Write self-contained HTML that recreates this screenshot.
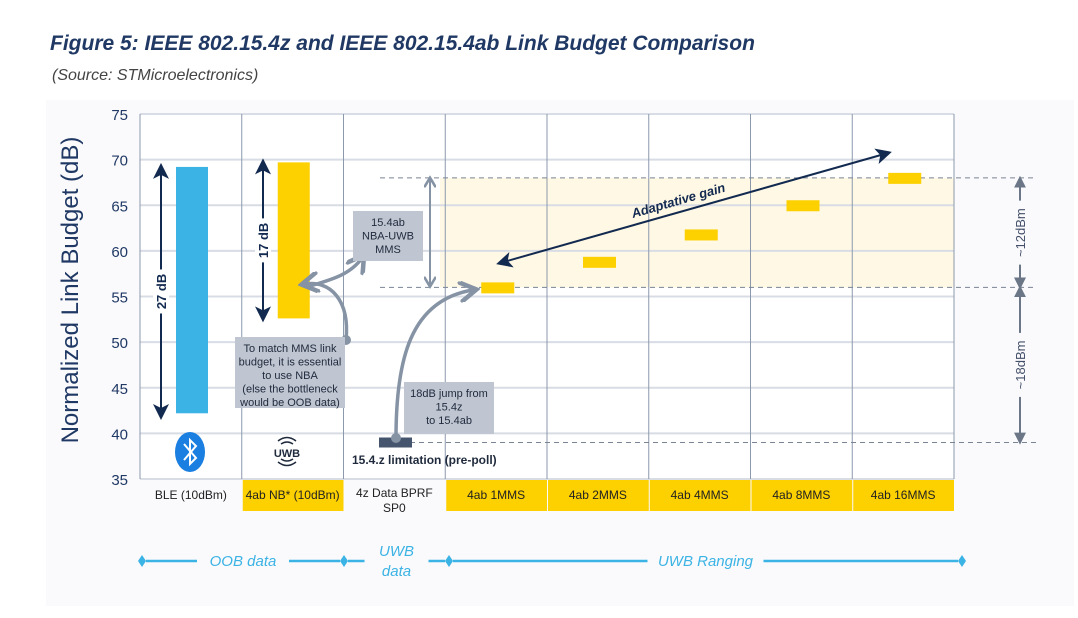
<!DOCTYPE html>
<html><head><meta charset="utf-8"><style>
body{margin:0;width:1078px;height:613px;background:#fff;font-family:"Liberation Sans",sans-serif;overflow:hidden}
svg text{font-family:"Liberation Sans",sans-serif}
</style></head><body>
<svg width="1078" height="613">
<defs>
<marker id="ah" markerWidth="8" markerHeight="8" refX="6" refY="4" orient="auto-start-reverse"><path d="M0,0L8,4L0,8L2,4z" fill="#132a50"/></marker>
<marker id="ag" markerWidth="6" markerHeight="6" refX="4" refY="3" orient="auto-start-reverse"><path d="M0,0L5,3L0,6" fill="none" stroke="#8593a5" stroke-width="1.3"/></marker>
<marker id="ad" markerWidth="6" markerHeight="6" refX="4" refY="3" orient="auto-start-reverse"><path d="M0,0L6,3L0,6z" fill="#6b7686"/></marker>
</defs>
<text x="50" y="50" font-size="21" font-weight="bold" font-style="italic" fill="#1f3864">Figure 5: IEEE 802.15.4z and IEEE 802.15.4ab Link Budget Comparison</text>
<text x="52" y="80" font-size="16" font-style="italic" fill="#444">(Source: STMicroelectronics)</text>
<rect x="46" y="100" width="1028" height="506" fill="#fafafc"/>
<rect x="140" y="114" width="814" height="365" fill="#fff"/>
<g id="grid"></g>
<g id="marks"></g>
<text transform="translate(78,290) rotate(-90)" text-anchor="middle" font-size="24" fill="#1f3864">Normalized Link Budget (dB)</text>
<g id="labels"></g>
<g id="annot"></g>
</svg>
<script>
const yTicks=[35,40,45,50,55,60,65,70,75];
const categories=["BLE (10dBm)","4ab NB* (10dBm)","4z Data BPRF|SP0","4ab 1MMS","4ab 2MMS","4ab 4MMS","4ab 8MMS","4ab 16MMS"];
const catHighlight=[0,1,0,1,1,1,1,1];
const rangeLow=[42.2,52.6];
const rangeHigh=[69.2,69.7];
const mmsValues=[56,58.8,61.8,65,68];
const limitValue=39;
const NS="http://www.w3.org/2000/svg";
const X0=140,CW=101.75,Y0=479,PX=365/40;
const y=v=>Y0-(v-35)*PX;
const x=i=>X0+i*CW;
function mk(t,a,p){const e=document.createElementNS(NS,t);for(const k in a)e.setAttribute(k,a[k]);(p||document.querySelector('svg')).appendChild(e);return e;}
const grid=document.getElementById('grid'),marks=document.getElementById('marks'),labels=document.getElementById('labels'),an=document.getElementById('annot');
let band=mk('rect',{x:440,y:y(68),width:954-440,height:y(56)-y(68),fill:'#fff8e4'},grid);


yTicks.forEach(t=>{
 let l=mk('line',{x1:X0,x2:954,y1:y(t),y2:y(t),stroke:'#d8dce4','stroke-width':2},grid);
 
 
 let tx=mk('text',{x:128,y:y(t)+6,'text-anchor':'end','font-size':15,fill:'#1f3864'},labels);
 tx.textContent=t;
 
 
});
for(let i=0;i<=categories.length;i++){
 let l=mk('line',{x1:x(i),x2:x(i),y1:114,y2:479,stroke:'#8c99ad','stroke-width':1},grid);
 
 
}
categories.forEach((c,i)=>{
 if(catHighlight[i]){let r=mk('rect',{x:x(i)+1,y:480,width:CW-1,height:31,fill:'#fdd000'},labels);
 
 }
 const parts=c.split('|');
 parts.forEach((p,k)=>{let t=mk('text',{x:x(i)+CW/2,y:parts.length>1?497+k*15:499,'text-anchor':'middle','font-size':12,fill:'#222'},labels);
 t.textContent=p;
 
 });
});
[68,56,limitValue].forEach(v=>{let l=mk('line',{x1:v==limitValue?410:380,x2:1036,y1:y(v),y2:y(v),stroke:'#7a8494','stroke-width':1,'stroke-dasharray':'5,4'},grid);

});
const colors=['#3bb3e4','#fdd000'];
rangeLow.forEach((lo,i)=>{let r=mk('rect',{x:x(i)+36,y:y(rangeHigh[i]),width:32,height:y(lo)-y(rangeHigh[i]),fill:colors[i]},marks);

});
mmsValues.forEach((v,i)=>{let r=mk('rect',{x:x(i+3)+36,y:y(v)-5,width:33,height:11,fill:'#fdd000'},marks);

});
let lim=mk('rect',{x:379,y:y(limitValue)-5,width:33,height:10,fill:'#46556e'},marks);


function varrow(xx,a,b,label,name,col,mkr){
 let l=mk('line',{x1:xx,x2:xx,y1:y(a),y2:y(b),stroke:col,'stroke-width':2,'marker-start':'url(#'+mkr+')','marker-end':'url(#'+mkr+')'},an);
 
 
 if(label){let cy=(y(a)+y(b))/2;mk('rect',{x:xx-8,y:cy-22,width:16,height:44,fill:'#fff'},an);
 let t=mk('text',{transform:`translate(${xx+5},${cy}) rotate(-90)`,'text-anchor':'middle','font-size':13,'font-weight':'bold',fill:'#132a50'},an);t.textContent=label;
 
 }
}
varrow(161,rangeLow[0]-0.3,rangeHigh[0],'27 dB','ble-span-arrow','#132a50','ah');
varrow(263,rangeLow[1],rangeHigh[1],'17 dB','nb-span-arrow','#132a50','ah');
varrow(430,56.3,67.8,null,'mms-span-arrow','#8593a5','ag');
varrow(1020,56.2,67.8,null,'12dbm-arrow','#6b7686','ad');
varrow(1020,39.2,55.8,null,'18dbm-arrow','#6b7686','ad');
[['~12dBm',62],['~18dBm',47.5]].forEach(([s,v])=>{mk('rect',{x:1013,y:y(v)-32,width:14,height:64,fill:'#fafafc'},an);
let t=mk('text',{transform:`translate(1025,${y(v)}) rotate(-90)`,'text-anchor':'middle','font-size':13,fill:'#44506a'},an);t.textContent=s;

});
let ag=mk('line',{x1:500,y1:263,x2:888,y2:153,stroke:'#132a50','stroke-width':2,'marker-start':'url(#ah)','marker-end':'url(#ah)'},an);


let agt=mk('text',{transform:'translate(633,218) rotate(-16)','font-size':13,'font-weight':'bold','font-style':'italic',fill:'#132a50'},an);agt.textContent='Adaptative gain';


function path(d,name){let p=mk('path',{d,fill:'none',stroke:'#8593a5','stroke-width':3.5,'marker-end':'url(#ag)'},an);

}
path('M346,340 C350,300 330,280 305,284','mms-callout-arrow');
path('M310,286 C330,280 350,275 362,258','nba-callout-arrow');
path('M396,438 C396,360 410,300 473,290','jump-callout-arrow');
[[346,340],[396,438]].forEach(([cx,cy])=>{let c=mk('circle',{cx,cy,r:5,fill:'#8593a5'},an);

});
function box(bx,by,w,h,lines,name){let r=mk('rect',{x:bx,y:by,width:w,height:h,fill:'#bfc5d1'},an);


lines.forEach((s,i)=>{let t=mk('text',{x:bx+w/2,y:by+15+i*13.5,'text-anchor':'middle','font-size':11,fill:'#1f2a3c'},an);t.textContent=s;

});}
box(353,211,70,50,['15.4ab','NBA-UWB','MMS'],'nba-uwb-box');
box(235,337,110,71,['To match MMS link','budget, it is essential','to use NBA','(else the bottleneck','would be OOB data)'],'nba-note-box');
box(404,382,90,52,['18dB jump from','15.4z','to 15.4ab'],'jump-note-box');
let lt=mk('text',{x:352,y:464,'font-size':12,'font-weight':'bold',fill:'#1f2a3c'},an);lt.textContent='15.4.z limitation (pre-poll)';


let bt=mk('ellipse',{cx:190,cy:452,rx:15,ry:20,fill:'#1a7fe0'},an);


mk('path',{d:'M184,444 L196,458 L190,464 L190,440 L196,446 L184,460',fill:'none',stroke:'#fff','stroke-width':2},an);
let uw=mk('text',{x:287,y:457,'text-anchor':'middle','font-size':11,'font-weight':'bold',fill:'#1f2a3c'},an);uw.textContent='UWB';


mk('path',{d:'M278,441 Q287,434 296,441 M281,444 Q287,440 293,444 M278,462 Q287,469 296,462 M281,459 Q287,463 293,459',fill:'none',stroke:'#1f2a3c','stroke-width':1.5},an);
const secs=[[142,344,'OOB data'],[344,449,'UWB|data'],[449,962,'UWB Ranging']];
secs.forEach(([a,b,s])=>{let mid=(a+b)/2;const parts=s.split('|');let hw=parts.length>1?32:s.length*4+14;
[[a+4,mid-hw],[mid+hw,b-4]].forEach(([p,q])=>{let l=mk('line',{x1:p,x2:q,y1:561,y2:561,stroke:'#3bb3e4','stroke-width':2.5},an);

});
parts.forEach((p,k)=>{let t=mk('text',{x:mid,y:parts.length>1?556+k*20:566,'text-anchor':'middle','font-size':15,'font-style':'italic',fill:'#3bb3e4'},an);t.textContent=p;

});});
[142,344,449,962].forEach(dx=>{let d=mk('path',{d:`M${dx},555 L${dx+4},561 L${dx},567 L${dx-4},561z`,fill:'#3bb3e4'},an);

});
</script>
</body></html>
